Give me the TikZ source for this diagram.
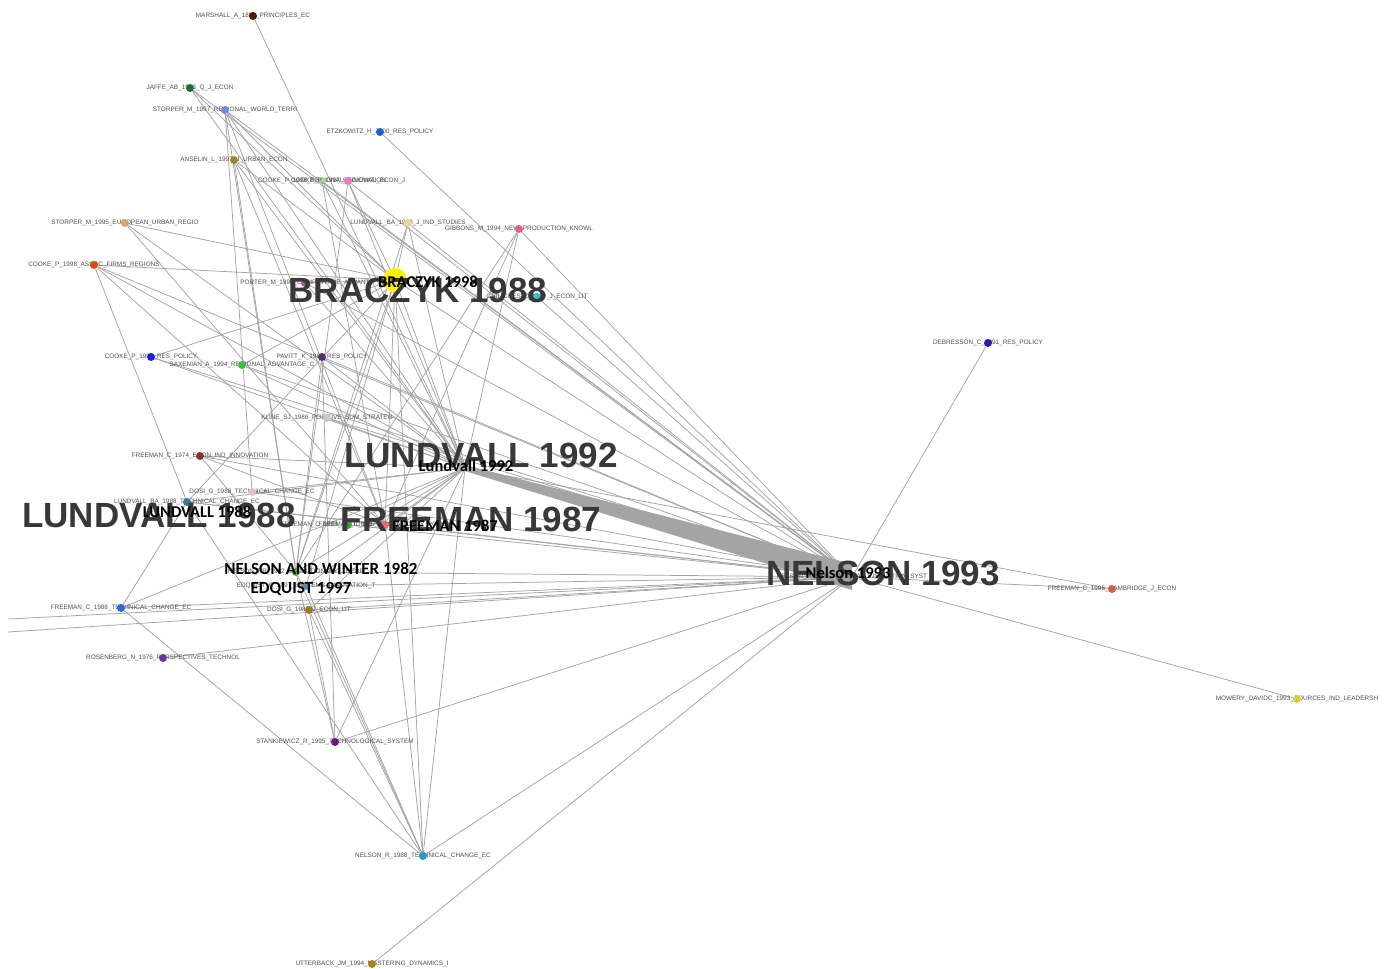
\documentclass[tikz,border=0pt]{standalone}
\usepackage{fontspec}
\setmainfont{Liberation Sans}
\newfontfamily\calib{Carlito}
\usetikzlibrary{backgrounds,calc}
\definecolor{edgegray}{HTML}{A4A4A4}
\definecolor{labgray}{HTML}{505050}
\definecolor{biggray}{HTML}{383838}
\tikzset{
  edge/.style={draw=edgegray, line width=0.75pt},
  dot/.style={circle, inner sep=0pt, minimum size=8pt, fill=#1},
  lab/.style={font=\fontsize{6.4}{6.4}\selectfont, text=labgray, inner sep=0pt},
  big/.style={font=\fontsize{35}{35}\selectfont\bfseries, text=biggray, inner sep=0pt},
  blk/.style={font=\calib\bfseries\fontsize{17}{17}\selectfont, text=black, inner sep=0pt},
  blks/.style={font=\calib\bfseries\fontsize{16.5}{16.5}\selectfont, text=black, inner sep=0pt},
}
\newcommand\citenode[4]{%
  \definecolor{c#1}{HTML}{#3}%
  \node[lab] (#1-t) at (#2) {#4};
  \node[dot=c#1] (#1) at (#2) {};}
\begin{document}
\begin{tikzpicture}[x=1pt,y=-1pt]
\useasboundingbox (0,0) rectangle (1393,969);

% ---- nodes ----
\citenode{mar}{253,16}{4A1A0A}{MARSHALL\_A\_1890\_PRINCIPLES\_EC}
\citenode{jaf}{190,88}{1E6B40}{JAFFE\_AB\_1993\_Q\_J\_ECON}
\citenode{st97}{225,110}{6B8FD8}{STORPER\_M\_1997\_REGIONAL\_WORLD\_TERRI}
\citenode{etz}{380,132}{1F5FD0}{ETZKOWITZ\_H\_2000\_RES\_POLICY}
\citenode{ans}{234,160}{9A8A2A}{ANSELIN\_L\_1997\_J\_URBAN\_ECON}
\citenode{cka}{322,181}{A8D890}{COOKE\_P\_1998\_REGIONAL\_INNOVATION}
\citenode{ckb}{348,181}{E878C8}{COOKE\_P\_1997\_REGIONAL\_ECON\_J}
\citenode{st95}{125,223}{D8A868}{STORPER\_M\_1995\_EUROPEAN\_URBAN\_REGIO}
\citenode{lba}{408,223}{E8D890}{LUNDVALL\_BA\_1998\_J\_IND\_STUDIES}
\citenode{gib}{519,229}{E06090}{GIBBONS\_M\_1994\_NEW\_PRODUCTION\_KNOWL}
\citenode{ckas}{94,265}{D84A10}{COOKE\_P\_1998\_ASSOC\_FIRMS\_REGIONS}
\citenode{por}{305,283}{C040C0}{PORTER\_M\_1990\_COMPETITIVE\_ADVANT}
\citenode{gri}{537,297}{30C0D0}{GRILICHES\_Z\_1990\_J\_ECON\_LIT}
\citenode{deb}{988,343}{2A1AA8}{DEBRESSON\_C\_1991\_RES\_POLICY}
\citenode{ck92}{151,357}{2020D0}{COOKE\_P\_1992\_RES\_POLICY}
\citenode{sax}{242,365}{40C040}{SAXENIAN\_A\_1994\_REGIONAL\_ADVANTAGE\_C}
\citenode{pav}{322,357}{503070}{PAVITT\_K\_1984\_RES\_POLICY}
\citenode{kli}{327,418}{C8C8C8}{KLINE\_SJ\_1986\_POSITIVE\_SUM\_STRATEG}
\citenode{fr74}{200,456}{903030}{FREEMAN\_C\_1974\_ECON\_IND\_INNOVATION}
\citenode{dosi}{252,492}{D8C8C8}{DOSI\_G\_1988\_TECHNICAL\_CHANGE\_EC}
\citenode{l88}{187,502}{3A7A90}{LUNDVALL\_BA\_1988\_TECHNICAL\_CHANGE\_EC}
\citenode{frn}{348,525}{30C030}{FREEMAN\_C\_1988\_NATIONAL\_INNOVATION}
\citenode{fr87}{385,525}{E07070}{FREEMAN\_C\_1987\_TECHNOLOGY\_POLICY}
\citenode{nw}{296,572}{60A020}{NELSON\_RR\_1982\_EVOLUTIONARY\_THEOR}
\citenode{edq}{306,586}{5090B0}{EDQUIST\_C\_1997\_SYSTEMS\_INNOVATION\_T}
\citenode{dsj}{309,610}{A07820}{DOSI\_G\_1988\_J\_ECON\_LIT}
\citenode{fr88}{121,608}{2A6AD0}{FREEMAN\_C\_1988\_TECHNICAL\_CHANGE\_EC}
\citenode{ros}{163,658}{7030A0}{ROSENBERG\_N\_1976\_PERSPECTIVES\_TECHNOL}
\citenode{stk}{335,742}{701880}{STANKIEWICZ\_R\_1995\_TECHNOLOGICAL\_SYSTEM}
\citenode{nr88}{423,856}{20A0C0}{NELSON\_R\_1988\_TECHNICAL\_CHANGE\_EC}
\citenode{utt}{372,964}{B08018}{UTTERBACK\_JM\_1994\_MASTERING\_DYNAMICS\_I}
\citenode{fr95}{1112,589}{D06050}{FREEMAN\_C\_1995\_CAMBRIDGE\_J\_ECON}
\citenode{mow}{1297,699}{D0D040}{MOWERY\_DAVIDC\_1993\_SOURCES\_IND\_LEADERSH}
\citenode{n93}{852,577}{909090}{NELSON\_R\_1993\_NATIONAL\_INNOVATION\_SYST}
\node[dot=edgegray, minimum size=5pt] (l92) at (465,468) {};
\node[dot=yellow, minimum size=24pt] (brz) at (395,280) {};
\coordinate (lfa) at (8,619);
\coordinate (lfb) at (8,632);

% ---- edges ----
\begin{pgfonlayer}{background}
\fill[white] (0,0) rectangle (1393,969);
\fill[edgegray] ($(l92)+(0,-3)$) -- ($(n93)+(0,-13)$) -- ($(n93)+(0,13)$) -- ($(l92)+(0,3)$) -- cycle;
\foreach \a/\b in {mar/l92, jaf/brz, jaf/l92, jaf/n93,
  st97/brz, st97/l92, st97/n93, st97/fr87, st97/dosi, st97/nw,
  etz/n93, ans/l92, ans/fr87, ans/brz, ans/nw,
  cka/l92, cka/n93, cka/fr87, ckb/l92, ckb/n93, ckb/nw, ckb/brz,
  st95/brz, st95/l92, st95/fr87,
  lba/n93, lba/l92, lba/brz, lba/nw,
  gib/n93, gib/l92, gib/nw, gib/fr87,
  ckas/brz, ckas/l92, ckas/fr87, ckas/n93, ckas/l88,
  por/l92, por/n93, por/brz, gri/n93, deb/n93,
  ck92/l92, ck92/n93, ck92/brz,
  sax/brz, sax/l92, sax/n93,
  pav/l92, pav/n93, pav/nw, pav/stk,
  kli/l92, kli/n93,
  fr74/l92, fr74/n93, fr74/fr87, fr74/nw,
  dosi/l92, dosi/n93,
  l88/l92, l88/n93, l88/fr87, l88/brz, l88/fr88, l88/nr88,
  frn/l92, frn/n93,
  fr87/l92, fr87/n93, fr87/brz, fr87/nr88,
  nw/l92, nw/n93, nw/brz, nw/nr88, nw/stk,
  edq/l92, edq/n93, edq/brz, edq/nr88,
  dsj/l92, dsj/n93, dsj/nr88, dsj/stk,
  fr88/n93, fr88/nr88, fr88/l92,
  ros/n93, stk/l92, stk/n93,
  nr88/l92, nr88/n93, nr88/brz,
  utt/n93, fr95/n93, fr95/l92, mow/n93,
  lfa/n93, lfb/n93, brz/l92, brz/n93}
  \draw[edge] (\a) -- (\b);
\end{pgfonlayer}

% ---- large overlay labels ----
\node[big] (brz-big) at (418,290) {BRACZYK 1988};
\node[big] (l92-big) at (481,455) {LUNDVALL 1992};
\node[big] (l88-big) at (159,515) {LUNDVALL 1988};
\node[big] (fr87-big) at (471,519) {FREEMAN 1987};
\node[big] (n93-big) at (883,573) {NELSON 1993};

% ---- black labels ----
\node[blks] (brz-b) at (428,282) {BRACZYK 1998};
\node[blks] (l92-b) at (466,466) {Lundvall 1992};
\node[blks] (l88-b) at (197,512) {LUNDVALL 1988};
\node[blks] (fr87-b) at (445,526) {FREEMAN 1987};
\node[blk] (nw-b) at (321,569) {NELSON AND WINTER 1982};
\node[blk] (edq-b) at (301,589) {EDQUIST 1997};
\node[blks] (n93-b) at (848,573) {Nelson 1993};
\end{tikzpicture}
\end{document}
